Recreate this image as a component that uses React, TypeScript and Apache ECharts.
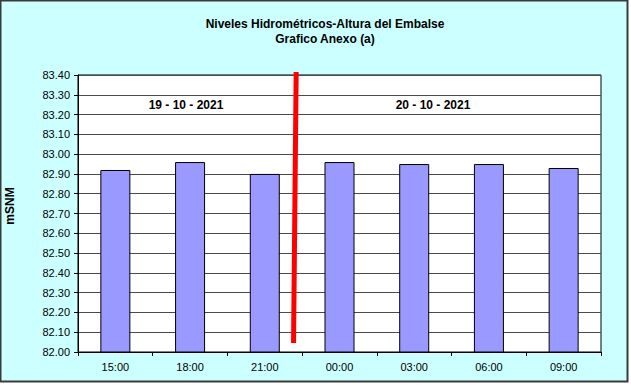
import React, { useEffect, useRef } from "react";
import * as echarts from "echarts";

const categories = ["15:00", "18:00", "21:00", "00:00", "03:00", "06:00", "09:00"];
const levels = [82.92, 82.96, 82.9, 82.96, 82.95, 82.95, 82.93];
const dayLabels = ["19 - 10 - 2021", "20 - 10 - 2021"];
const separatorX = [2.92, 2.885];
const separatorY = [83.415, 82.045];
const yMin = 82.0;
const yMax = 83.4;
const yStep = 0.1;

const FONT = "Arial, 'Liberation Sans', sans-serif";

export default function App() {
  const ref = useRef<HTMLDivElement>(null);
  useEffect(() => {
    document.body.style.margin = "0";
    const chart = echarts.init(ref.current!, null, { renderer: "svg" });
    chart.setOption({
      animation: false,
      backgroundColor: "#ffffff",
      title: {
        text: "Niveles Hidrométricos-Altura del Embalse\nGrafico Anexo (a)",
        left: 320,
        top: 11,
        textAlign: "center",
        textStyle: { fontFamily: FONT, fontSize: 12, fontWeight: "bold", color: "#000", lineHeight: 15 },
      },
      graphic: [
        {
          type: "rect",
          z: -10,
          shape: { x: 0.5, y: 0.5, width: 627, height: 381 },
          style: { fill: "#CCFFFF", stroke: "#3a3a3a", lineWidth: 2 },
        },
        {
          type: "text",
          x: 10,
          y: 206,
          rotation: Math.PI / 2,
          style: {
            text: "mSNM",
            fontFamily: FONT,
            fontSize: 12,
            fontWeight: "bold",
            fill: "#000",
            align: "center",
            verticalAlign: "middle",
          },
        },
        {
          type: "text",
          x: 186,
          y: 105,
          z: 10,
          style: {
            text: dayLabels[0],
            fontFamily: FONT,
            fontSize: 12,
            fontWeight: "bold",
            fill: "#000",
            align: "center",
            verticalAlign: "middle",
          },
        },
        {
          type: "text",
          x: 433,
          y: 105,
          z: 10,
          style: {
            text: dayLabels[1],
            fontFamily: FONT,
            fontSize: 12,
            fontWeight: "bold",
            fill: "#000",
            align: "center",
            verticalAlign: "middle",
          },
        },
      ],
      grid: {
        left: 78,
        top: 75,
        width: 523,
        height: 277,
        show: true,
        backgroundColor: "#ffffff",
        borderColor: "#000",
        borderWidth: 1,
      },
      xAxis: [
        {
          type: "category",
          data: categories,
          boundaryGap: true,
          axisLine: { lineStyle: { color: "#000", width: 1 } },
          axisTick: { show: true, length: 4, inside: false, lineStyle: { color: "#000" } },
          axisLabel: { fontFamily: FONT, fontSize: 11, color: "#000", margin: 9 },
        },
        {
          type: "value",
          min: 0,
          max: 7,
          show: false,
        },
      ],
      yAxis: {
        type: "value",
        min: yMin,
        max: yMax,
        interval: yStep,
        axisLine: { show: true, lineStyle: { color: "#000", width: 1 } },
        axisTick: { show: true, length: 4, lineStyle: { color: "#000" } },
        axisLabel: {
          fontFamily: FONT,
          fontSize: 11,
          color: "#000",
          margin: 8,
          formatter: (v: number) => v.toFixed(2),
        },
        splitLine: { show: true, lineStyle: { color: "#4a4a4a", width: 1 } },
      },
      series: [
        {
          type: "bar",
          xAxisIndex: 0,
          data: levels,
          barWidth: 30,
          itemStyle: { color: "#9999FF", borderColor: "#000", borderWidth: 1 },
        },
        {
          type: "line",
          xAxisIndex: 1,
          data: separatorX.map((x, i) => [x, separatorY[i]]),
          symbol: "none",
          clip: false,
          z: 5,
          lineStyle: { color: "#FF0000", width: 5 },
        },
      ],
    });
    return () => chart.dispose();
  }, []);
  return <div ref={ref} style={{ position: "absolute", left: 0, top: 0, width: 631, height: 385 }} />;
}
